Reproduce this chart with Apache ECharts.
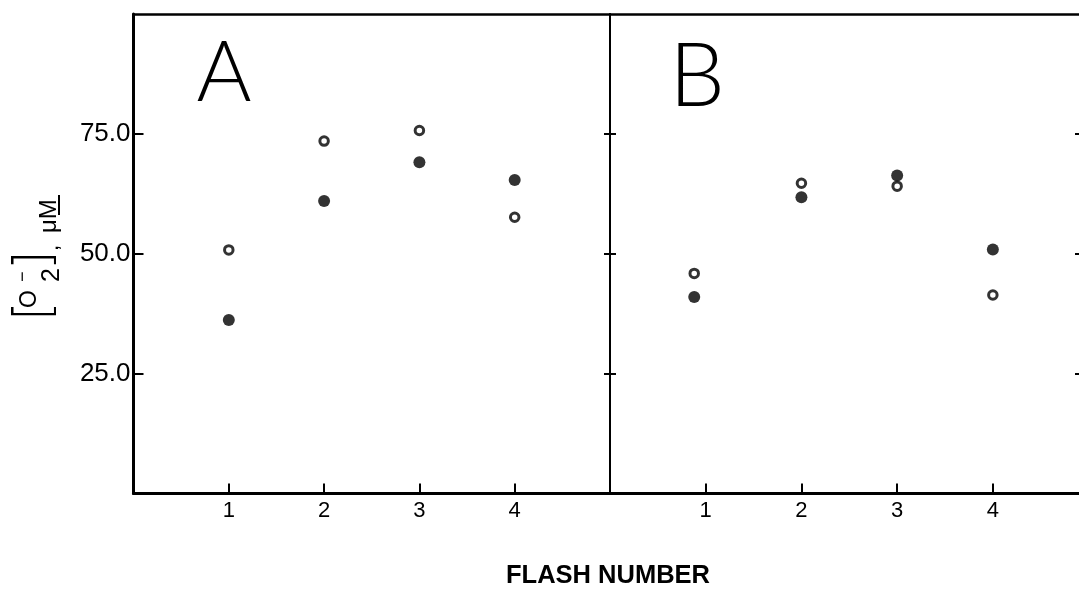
<!DOCTYPE html>
<html>
<head>
<meta charset="utf-8">
<script src="https://cdn.jsdelivr.net/npm/echarts@6/dist/echarts.min.js"></script>
<style>
  html, body { margin: 0; padding: 0; background: #fff; }
  #chart { width: 1079px; height: 589px; }
</style>
</head>
<body>
<div id="chart"></div>
<script>
// Superoxide yield per flash, two preparations (A and B)
const flashA = [1, 2, 3, 4];
const openA = [50.8, 73.5, 75.7, 57.6];
const filledA = [36.2, 61.0, 69.1, 65.4];

const flashB = [0.88, 2, 3, 4];
const openB = [45.9, 64.7, 64.1, 41.4];
const filledB = [41.0, 61.8, 66.3, 50.9];

const xTickValues = [1, 2, 3, 4];
const yTickValues = [25, 50, 75];
const panelLetters = ['A', 'B'];
const xTitle = 'FLASH NUMBER';

const INK = '#000';
const pairs = (xs, ys) => ys.map((v, i) => [xs[i], v]);

const chart = echarts.init(document.getElementById('chart'), null, { renderer: 'canvas' });

const xLabel = {
  fontFamily: 'Liberation Sans', fontSize: 22, color: INK, margin: 6,
  customValues: xTickValues,
  formatter: v => (xTickValues.includes(v) ? String(v) : '')
};
const yLabelFmt = v => (yTickValues.includes(v) ? v.toFixed(1) : '');

function bottomAxis(gridIndex, max) {
  return {
    type: 'value', gridIndex, position: 'bottom', min: 0, max, interval: 1,
    axisLine: { onZero: false, lineStyle: { color: INK, width: 3 } },
    axisTick: { inside: true, length: 10, customValues: xTickValues, lineStyle: { color: INK, width: 2 } },
    axisLabel: xLabel,
    splitLine: { show: false }
  };
}
function topAxis(gridIndex, max) {
  return {
    type: 'value', gridIndex, position: 'top', min: 0, max,
    axisLine: { onZero: false, lineStyle: { color: INK, width: 2.5 } },
    axisTick: { show: false }, axisLabel: { show: false }, splitLine: { show: false }
  };
}
function sideAxis(gridIndex, position, lineWidth, tickLen, extra) {
  return Object.assign({
    type: 'value', gridIndex, position, min: 0, max: 100, interval: 25,
    axisLine: { show: lineWidth > 0, onZero: false, lineStyle: { color: INK, width: lineWidth } },
    axisTick: { inside: true, length: tickLen, customValues: yTickValues, lineStyle: { color: INK, width: 2 } },
    axisLabel: { show: false },
    splitLine: { show: false }
  }, extra || {});
}

// rotated y-axis title: [O2-] , μM  (laid out along the reading direction)
const txt = (text, x, y, size, family, weight) => ({
  type: 'text', x, y,
  style: { text, fill: INK, fontFamily: family || 'Liberation Sans', fontWeight: weight || 'normal',
           fontSize: size, align: 'left', verticalAlign: 'middle' }
});
const yTitle = {
  type: 'group', x: 12, y: 321, rotation: Math.PI / 2, silent: true,
  children: [
    txt('[', 0, 24, 50, 'DejaVu Sans', 200),
    txt('O', 13, 18, 23),
    txt('\u2212', 39, 11, 18),
    txt('2', 39, 40, 25),
    txt(']', 51, 24, 50, 'DejaVu Sans', 200),
    txt(',', 70, 40, 22),
    txt('\u03bcM', 88, 37, 24),
    { type: 'rect', shape: { x: 106, y: 46, width: 20, height: 2 }, style: { fill: INK } }
  ]
};

const option = {
  animation: false,
  backgroundColor: '#fff',
  grid: [
    { left: 133.5, top: 14, width: 476.5, height: 479.5 },
    { left: 610, top: 14, width: 469, height: 479.5 }
  ],
  xAxis: [bottomAxis(0, 5), topAxis(0, 5), bottomAxis(1, 4.9), topAxis(1, 4.9)],
  yAxis: [
    sideAxis(0, 'left', 3, 10, {
      axisLabel: {
        show: true, formatter: yLabelFmt, margin: 3, customValues: yTickValues,
        fontFamily: 'Liberation Sans', fontSize: 26, color: INK
      }
    }),
    sideAxis(0, 'right', 2, 6),
    sideAxis(1, 'left', 0, 6),
    sideAxis(1, 'right', 0, 4)
  ],
  graphic: [
    {
      type: 'text', x: 224, y: 74, silent: true,
      style: { text: panelLetters[0], fill: INK, fontFamily: 'Lato', fontWeight: 300, fontSize: 84, align: 'center', verticalAlign: 'middle' }
    },
    {
      type: 'text', x: 697, y: 78, silent: true,
      style: { text: panelLetters[1], fill: INK, fontFamily: 'Lato', fontWeight: 300, fontSize: 88, align: 'center', verticalAlign: 'middle' }
    },
    {
      type: 'text', x: 608, y: 576, silent: true,
      style: { text: xTitle, fill: INK, fontFamily: 'Liberation Sans', fontWeight: 'bold', fontSize: 25.5, align: 'center', verticalAlign: 'middle' }
    },
    yTitle
  ],
  series: [
    {
      type: 'scatter', xAxisIndex: 0, yAxisIndex: 0, symbol: 'circle', symbolSize: 12,
      itemStyle: { color: INK }, data: pairs(flashA, filledA)
    },
    {
      type: 'scatter', xAxisIndex: 0, yAxisIndex: 0, symbol: 'circle', symbolSize: 8.5,
      itemStyle: { color: '#fff', borderColor: INK, borderWidth: 3 }, data: pairs(flashA, openA)
    },
    {
      type: 'scatter', xAxisIndex: 2, yAxisIndex: 2, symbol: 'circle', symbolSize: 12,
      itemStyle: { color: INK }, data: pairs(flashB, filledB)
    },
    {
      type: 'scatter', xAxisIndex: 2, yAxisIndex: 2, symbol: 'circle', symbolSize: 8.5,
      itemStyle: { color: '#fff', borderColor: INK, borderWidth: 3 }, data: pairs(flashB, openB)
    }
  ]
};

chart.setOption(option);
</script>
</body>
</html>
